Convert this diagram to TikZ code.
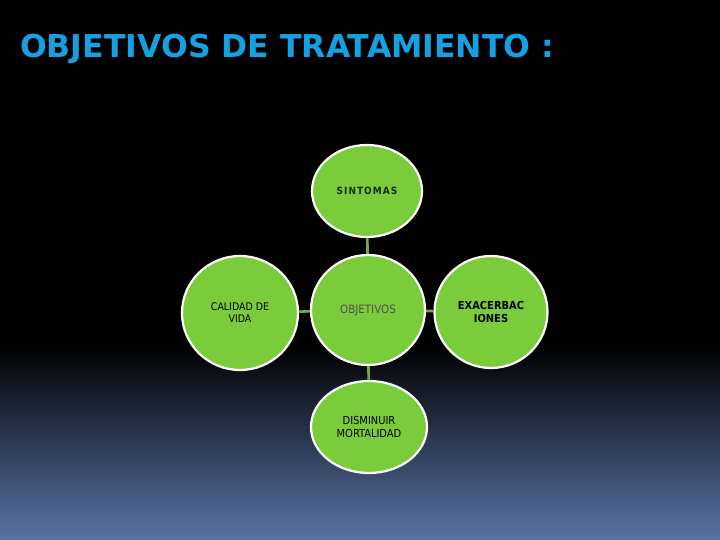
\documentclass[tikz,border=0pt]{standalone}
\usepackage{fontspec}
\setmainfont{DejaVu Sans}
\newfontfamily\titlefont{DejaVu Sans}
\newfontfamily\nodefont{DejaVu Sans Condensed}
\newfontfamily\spacedfont[LetterSpace=10]{DejaVu Sans Condensed}
\definecolor{bgbottom}{RGB}{90,115,166}
\definecolor{titleblue}{RGB}{20,160,225}
\definecolor{leafgreen}{RGB}{122,204,58}
\definecolor{linkgreen}{RGB}{118,168,70}
\definecolor{objgray}{RGB}{80,80,80}
\definecolor{darkleaf}{RGB}{20,45,20}
\pgfdeclareverticalshading{bgshade}{100bp}{color(0bp)=(bgbottom); color(25bp)=(bgbottom); color(43bp)=(black); color(100bp)=(black)}
\tikzset{
  leaf/.style={ellipse, draw=white, line width=2.2pt, fill=leafgreen, inner sep=0pt,
     align=center, font=\nodefont\fontsize{10.5}{12}\selectfont},
  link/.style={draw=linkgreen, line width=2.6pt}
}
\usetikzlibrary{shapes.geometric}
\begin{document}
\begin{tikzpicture}[x=1pt,y=-1pt]
\useasboundingbox (0,0) rectangle (720,540);
\shade[shading=bgshade] (0,0) rectangle (720,540);
\node[anchor=base west, text=titleblue, font=\titlefont\bfseries\fontsize{31.5}{34}\selectfont, inner sep=0pt] (title) at (20,58) {OBJETIVOS DE TRATAMIENTO :};
\node[leaf, minimum width=110pt, minimum height=92pt, text=darkleaf, font=\spacedfont\bfseries\fontsize{10}{12}\selectfont] (sin) at (367,191) {SINTOMAS};
\node[leaf, minimum width=114pt, minimum height=110pt, text=objgray, font=\nodefont\fontsize{11.5}{13}\selectfont] (obj) at (368,310) {OBJETIVOS};
\node[leaf, minimum width=116pt, minimum height=114pt] (cal) at (240,313) {CALIDAD DE\\VIDA};
\node[leaf, minimum width=113pt, minimum height=112pt, font=\nodefont\bfseries\fontsize{11}{13}\selectfont] (exa) at (491,312) {EXACERBAC\\IONES};
\node[leaf, minimum width=116pt, minimum height=92pt, font=\nodefont\fontsize{11}{13}\selectfont] (dis) at (369,427) {DISMINUIR\\MORTALIDAD};
\draw[link] (sin) -- (obj);
\draw[link] (obj) -- (dis);
\draw[link] (cal) -- (obj);
\draw[link] (obj) -- (exa);
\end{tikzpicture}
\end{document}
